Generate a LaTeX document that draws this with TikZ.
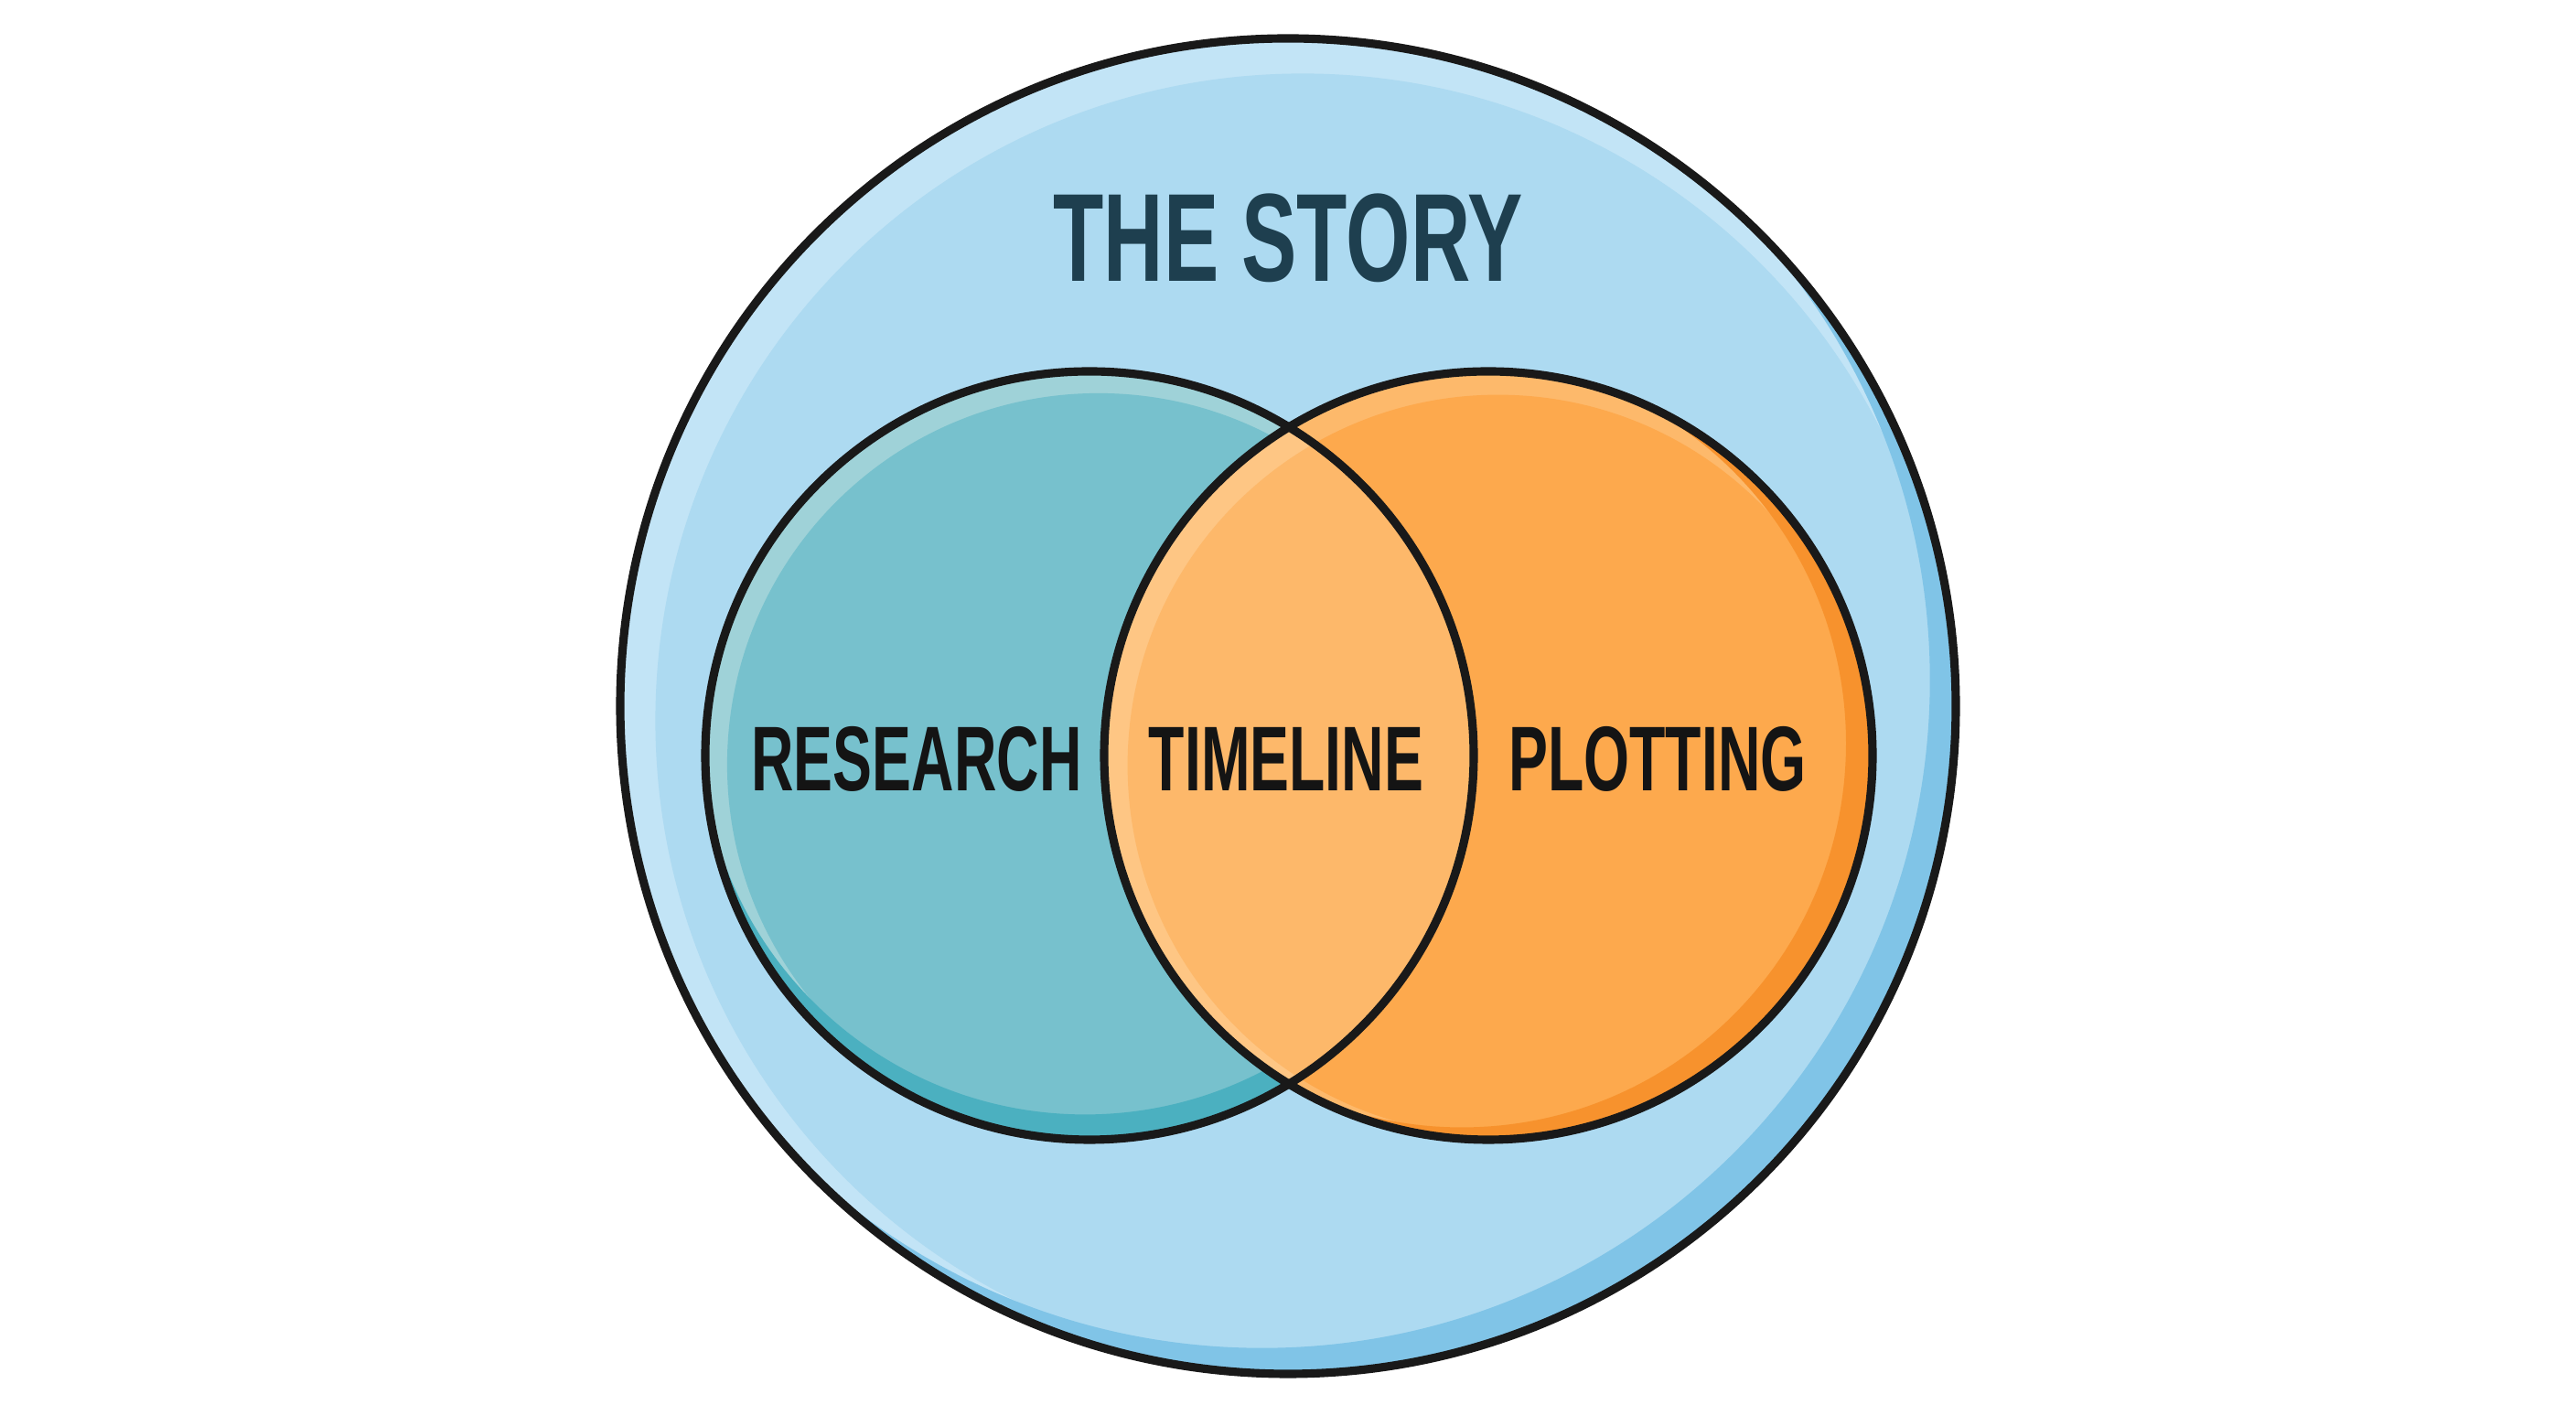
\documentclass[tikz,border=0pt]{standalone}
\usepackage{fontspec}
\newfontfamily\titlefont[FakeStretch=0.66]{Liberation Sans}
\newfontfamily\labelfont[FakeStretch=0.64]{Liberation Sans}
\usetikzlibrary{positioning}

\definecolor{storyLight}{HTML}{C2E4F6}
\definecolor{storyBase}{HTML}{ADDAF1}
\definecolor{storyDark}{HTML}{80C4E7}
\definecolor{tealLight}{HTML}{9FD2D8}
\definecolor{tealBase}{HTML}{77C1CD}
\definecolor{tealDark}{HTML}{4BB0C0}
\definecolor{orangeLight}{HTML}{FDB96B}
\definecolor{orangeBase}{HTML}{FDA94D}
\definecolor{orangeDark}{HTML}{F7922D}
\definecolor{overlapLight}{HTML}{FEC684}
\definecolor{overlapBase}{HTML}{FDB86A}
\definecolor{titleInk}{HTML}{1E3F4F}
\definecolor{labelInk}{HTML}{141414}

\tikzset{
  ring/.style={draw=black!90, line width=2.6pt},
  vennlabel/.style={text=labelInk, font=\labelfont\bfseries\fontsize{28.6}{30}\selectfont}
}

\begin{document}
\begin{tikzpicture}
\useasboundingbox[fill=white] (0,0) rectangle (28.16,15.36);
\coordinate (storyCenter) at (14.08,7.64);
\coordinate (researchCenter) at (11.91,7.10);
\coordinate (plottingCenter) at (16.27,7.10);

% outer circle
\begin{scope}
\clip (storyCenter) circle (7.3);
\fill[storyLight] (storyCenter) circle (7.3);
\fill[storyBase] (storyCenter) ++(-45:0.225) circle (7.075);
\fill[storyDark, even odd rule] (storyCenter) circle (7.3) (storyCenter) ++(135:0.4) circle (7.3);
\end{scope}
\draw[ring] (storyCenter) circle (7.3);

% left circle
\begin{scope}
\clip (researchCenter) circle (4.2);
\fill[tealLight] (researchCenter) circle (4.2);
\fill[tealBase] (researchCenter) ++(-45:0.14) circle (4.06);
\fill[tealDark, even odd rule] (researchCenter) circle (4.2) (researchCenter) ++(100:0.28) circle (4.2);
\end{scope}

% right circle
\begin{scope}
\clip (plottingCenter) circle (4.2);
\fill[orangeLight] (plottingCenter) circle (4.2);
\fill[orangeBase] (plottingCenter) ++(-45:0.15) circle (4.05);
\fill[orangeDark, even odd rule] (plottingCenter) circle (4.2) (plottingCenter) ++(155:0.32) circle (4.2);
\end{scope}

% overlap
\begin{scope}
\clip (researchCenter) circle (4.2);
\clip (plottingCenter) circle (4.2);
\fill[overlapLight] (plottingCenter) circle (4.2);
\fill[overlapBase] (plottingCenter) ++(-45:0.15) circle (4.05);
\end{scope}

\draw[ring] (researchCenter) circle (4.2);
\draw[ring] (plottingCenter) circle (4.2);

\node[text=titleInk, font=\titlefont\bfseries\fontsize{39}{40}\selectfont] (story) at (14.08,12.76) {THE STORY};
\node[vennlabel] (research) at (10.02,7.06) {RESEARCH};
\node[vennlabel] (timeline) at (14.06,7.06) {TIMELINE};
\node[vennlabel] (plotting) at (18.12,7.06) {PLOTTING};
\end{tikzpicture}
\end{document}
